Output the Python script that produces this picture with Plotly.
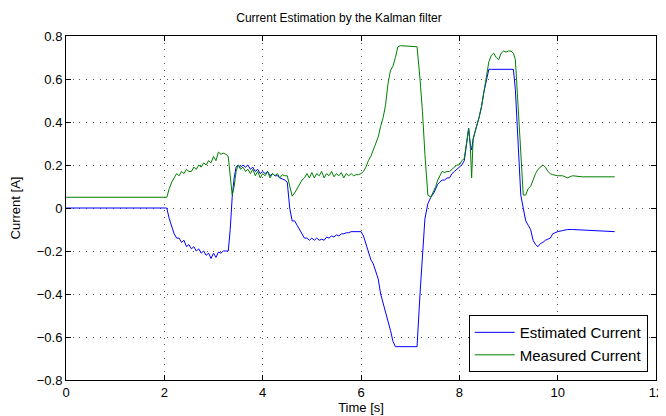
import plotly.graph_objects as go

t = [0, 2.05, 2.1, 2.15, 2.2, 2.25, 2.3, 2.35, 2.4, 2.45, 2.5, 2.55, 2.6, 2.65, 2.7, 2.75, 2.8, 2.85, 2.9, 2.95,
     3.0, 3.05, 3.1, 3.15, 3.2, 3.25, 3.3, 3.34, 3.38, 3.42, 3.46, 3.5, 3.55, 3.6, 3.65, 3.7, 3.75, 3.8, 3.85, 3.9,
     3.95, 4.0, 4.05, 4.1, 4.15, 4.2, 4.25, 4.3, 4.35, 4.4, 4.45, 4.5, 4.55, 4.6, 4.65, 4.7, 4.75, 4.8, 4.85, 4.9,
     4.95, 5.0, 5.05, 5.1, 5.15, 5.2, 5.25, 5.3, 5.35, 5.4, 5.45, 5.5, 5.55, 5.6, 5.65, 5.7, 5.75, 5.8, 5.85, 5.9,
     5.95, 6.0, 6.05, 6.1, 6.15, 6.2, 6.25, 6.3, 6.35, 6.4, 6.45, 6.5, 6.55, 6.6, 6.65, 6.7, 6.75, 6.8, 7.14, 7.2,
     7.25, 7.3, 7.36, 7.42, 7.48, 7.52, 7.56, 7.6, 7.65, 7.7, 7.75, 7.8, 7.85, 7.9, 7.95, 8.0, 8.05, 8.1, 8.15, 8.19,
     8.22, 8.25, 8.28, 8.3, 8.35, 8.4, 8.45, 8.5, 8.55, 8.6, 8.65, 8.7, 8.75, 8.8, 8.85, 8.9, 8.95, 9.0, 9.05, 9.1,
     9.14, 9.2, 9.25, 9.3, 9.35, 9.4, 9.45, 9.5, 9.55, 9.6, 9.65, 9.7, 9.75, 9.8, 9.85, 9.9, 10.0, 10.1, 10.2, 10.3,
     10.5, 11.16]

estimated = [0, 0, -0.05, -0.09, -0.12, -0.14, -0.14, -0.16, -0.15, -0.18, -0.17, -0.19, -0.18, -0.2, -0.19, -0.21, -0.2, -0.22, -0.21, -0.235,
             -0.21, -0.23, -0.205, -0.21, -0.2, -0.2, -0.2, -0.1, 0.05, 0.14, 0.19, 0.2, 0.19, 0.2, 0.19, 0.2, 0.18, 0.19, 0.17, 0.18,
             0.16, 0.17, 0.16, 0.17, 0.15, 0.16, 0.15, 0.15, 0.14, 0.135, 0.13, 0.12, 0.0, -0.06, -0.06, -0.08, -0.1, -0.12, -0.14, -0.14,
             -0.15, -0.14, -0.15, -0.14, -0.15, -0.145, -0.15, -0.135, -0.14, -0.13, -0.135, -0.125, -0.13, -0.12, -0.12, -0.115, -0.115, -0.11, -0.11, -0.11,
             -0.11, -0.11, -0.13, -0.17, -0.2, -0.24, -0.26, -0.3, -0.33, -0.4, -0.44, -0.49, -0.53, -0.57, -0.62, -0.645, -0.645, -0.645, -0.645, -0.4,
             -0.2, -0.05, 0.02, 0.05, 0.07, 0.09, 0.11, 0.12, 0.13, 0.13, 0.14, 0.14, 0.16, 0.17, 0.18, 0.19, 0.2, 0.22, 0.3, 0.37,
             0.3, 0.27, 0.32, 0.34, 0.38, 0.42, 0.47, 0.54, 0.6, 0.645, 0.645, 0.645, 0.645, 0.645, 0.645, 0.645, 0.645, 0.645, 0.645, 0.645,
             0.55, 0.25, 0.06, 0.0, -0.06, -0.08, -0.1, -0.15, -0.17, -0.18, -0.165, -0.16, -0.15, -0.145, -0.14, -0.12, -0.11, -0.105, -0.1, -0.1,
             -0.103, -0.11]

measured = [0.05, 0.05, 0.09, 0.12, 0.14, 0.16, 0.15, 0.17, 0.16, 0.18, 0.17, 0.17, 0.19, 0.18, 0.2, 0.19, 0.21, 0.2, 0.22, 0.21,
            0.24, 0.22, 0.26, 0.25, 0.255, 0.25, 0.24, 0.15, 0.06, 0.1, 0.17, 0.2, 0.18, 0.19, 0.17, 0.18, 0.16, 0.18, 0.15, 0.17,
            0.14, 0.16, 0.15, 0.17, 0.14, 0.16, 0.15, 0.16, 0.14, 0.155, 0.15, 0.15, 0.1, 0.055, 0.07, 0.09, 0.11, 0.13, 0.14, 0.16,
            0.14, 0.165, 0.14, 0.16, 0.15, 0.17, 0.14, 0.16, 0.15, 0.17, 0.145, 0.16, 0.15, 0.165, 0.14, 0.16, 0.15, 0.16, 0.15, 0.155,
            0.155, 0.16, 0.17, 0.19, 0.22, 0.24, 0.27, 0.3, 0.33, 0.38, 0.42, 0.48, 0.58, 0.64, 0.66, 0.7, 0.75, 0.755, 0.75, 0.6,
            0.45, 0.25, 0.06, 0.05, 0.08, 0.1, 0.13, 0.15, 0.17, 0.165, 0.17, 0.17, 0.18, 0.19, 0.2, 0.2, 0.22, 0.23, 0.3, 0.37,
            0.3, 0.14, 0.32, 0.34, 0.38, 0.42, 0.47, 0.54, 0.62, 0.68, 0.71, 0.72, 0.7, 0.69, 0.72, 0.73, 0.725, 0.73, 0.73, 0.72,
            0.69, 0.45, 0.2, 0.06, 0.06, 0.09, 0.1, 0.13, 0.16, 0.18, 0.19, 0.2, 0.19, 0.17, 0.16, 0.155, 0.15, 0.15, 0.14, 0.15,
            0.145, 0.145]

assert len(t) == len(estimated) == len(measured)

xticks = [0, 2, 4, 6, 8, 10, 12]
yticks = [-0.8, -0.6, -0.4, -0.2, 0, 0.2, 0.4, 0.6, 0.8]

FONT = "Liberation Sans, Arial, Helvetica, sans-serif"

fig = go.Figure()
fig.add_trace(go.Scatter(x=t, y=estimated, mode="lines", name="Estimated Current",
                         line=dict(color="#0000FF", width=1)))
fig.add_trace(go.Scatter(x=t, y=measured, mode="lines", name="Measured Current",
                         line=dict(color="#008000", width=1)))

axis_common = dict(showline=True, linecolor="black", linewidth=1, mirror="ticks",
                   ticks="inside", ticklen=5, tickcolor="black", automargin=False,
                   showgrid=True, gridcolor="#555555", griddash="1px,5.7px", gridwidth=1,
                   zeroline=False, tickfont=dict(family=FONT, size=13, color="black"))

fig.update_xaxes(range=[0, 12], tickvals=xticks, ticktext=[str(v) for v in xticks],
                 title=dict(text="Time [s]", font=dict(family=FONT, size=13, color="black"), standoff=2),
                 **axis_common)
fig.update_yaxes(range=[-0.8, 0.8], tickvals=yticks,
                 ticktext=[("\u2212" if v < 0 else "") + ("%g" % abs(v) if v != 0 else "0") for v in yticks],
                 title=dict(text="Current [A]", font=dict(family=FONT, size=13, color="black"), standoff=18),
                 **axis_common)

# page body adds an 8px offset; figure sized/margined so the plot lands where the reference has it
fig.update_layout(
    width=658, height=408,
    margin=dict(l=58, r=10, t=28, b=36),
    paper_bgcolor="white", plot_bgcolor="white",
    title=dict(text="Current Estimation by the Kalman filter", x=0.503, xanchor="center",
               y=0.9755, yanchor="middle", font=dict(family=FONT, size=12, color="black")),
    legend=dict(x=0.986, y=0.023, xanchor="right", yanchor="bottom",
                bgcolor="white", bordercolor="black", borderwidth=1,
                font=dict(family=FONT, size=15, color="black"),
                tracegroupgap=0, itemwidth=40),
    showlegend=True,
)

fig.write_html("out.html")
